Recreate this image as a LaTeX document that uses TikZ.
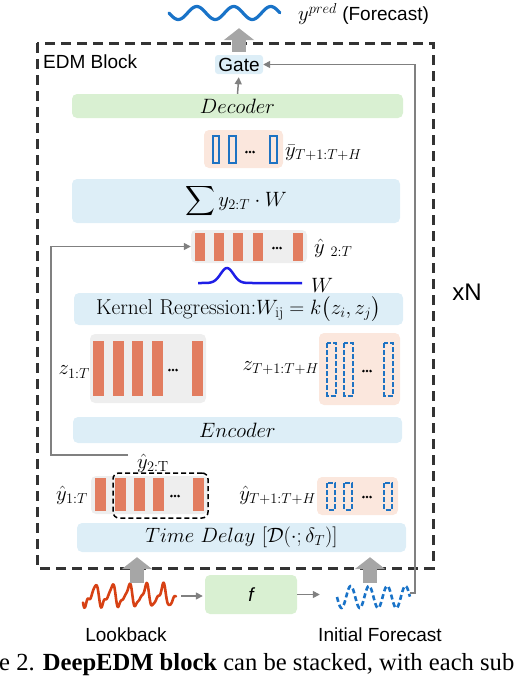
\documentclass[tikz,border=0pt]{standalone}
\usepackage{fontspec}
\usepackage{amsmath}
\newfontfamily\sansA{Liberation Sans}
\newfontfamily\capfont{Liberation Serif}
\usetikzlibrary{arrows.meta}
\definecolor{boxblue}{RGB}{221,238,247}
\definecolor{boxgreen}{RGB}{217,240,210}
\definecolor{boxpeach}{RGB}{251,231,221}
\definecolor{boxgray}{RGB}{238,238,238}
\definecolor{barorange}{RGB}{226,125,96}
\definecolor{barblue}{RGB}{30,115,195}
\definecolor{fatgray}{RGB}{166,166,166}
\definecolor{conngray}{RGB}{128,128,128}
\definecolor{borderdark}{RGB}{51,51,51}
\definecolor{wblue}{RGB}{30,30,230}
\definecolor{lookred}{RGB}{215,65,20}
\definecolor{fcblue}{RGB}{25,115,200}
\newcommand\mydots[1]{\fill (#1) ++(-3.6,0) circle (1.4) ++(3.6,0) circle (1.4) ++(3.6,0) circle (1.4);}
\begin{document}
\begin{tikzpicture}[x=1pt,y=-1pt,
  blk/.style={rounded corners=5pt, inner sep=0pt, draw=none},
  bluebox/.style={blk, fill=boxblue},
  greenbox/.style={blk, fill=boxgreen},
  peachbox/.style={blk, fill=boxpeach},
  graybox/.style={blk, fill=boxgray},
  bar/.style={fill=barorange},
  hollow/.style={draw=barblue, line width=2.4pt},
  hollowd/.style={hollow, dash pattern=on 5pt off 2pt},
  conn/.style={draw=conngray, line width=1.5pt, -{Triangle[length=7pt,width=7pt]}},
  fat/.style={draw=fatgray, line width=14pt, -{Triangle[length=12pt,width=30pt]}},
  sanstxt/.style={font=\sansA\fontsize{19}{22}\selectfont},
  mtxt/.style={font=\fontsize{21.5}{24}\selectfont},
  lbl/.style={inner sep=0pt, font=\fontsize{21}{24}\selectfont},
  ghost/.style={inner sep=0pt, draw=none}
]
\useasboundingbox (0,0) rectangle (516,678);

% outer dashed frame
\draw[borderdark, line width=3pt, dash pattern=on 10pt off 6pt] (37,43) rectangle (433,568);
\node[sanstxt, anchor=west, inner sep=0pt] (edm) at (43,62) {EDM Block};
\node[font=\sansA\fontsize{24}{28}\selectfont, inner sep=0pt] (xn) at (467,292) {xN};

% boxes
\node[bluebox, minimum width=48pt, minimum height=19pt, rounded corners=3pt, sanstxt] (gate) at (239,64.5) {Gate};
\node[greenbox, minimum width=331pt, minimum height=24pt, mtxt] (decoder) at (237.5,106) {$Decoder$};
\node[peachbox, minimum width=79pt, minimum height=38pt] (ybarbox) at (243.5,149) {};
\node[bluebox, minimum width=328pt, minimum height=44pt, mtxt] (sum) at (236,201) {$\displaystyle\sum y_{2:T}\cdot W$};
\node[graybox, minimum width=116pt, minimum height=33pt] (yh2box) at (249,246.5) {};
\node[bluebox, minimum width=329pt, minimum height=32pt, mtxt] (kernel) at (238.5,309) {Kernel Regression:$W_{\mathrm{ij}}=k\bigl(z_i,z_j\bigr)$};
\node[graybox, minimum width=116pt, minimum height=69pt] (z1box) at (148,368.5) {};
\node[peachbox, minimum width=81pt, minimum height=72pt] (zTbox) at (359.5,369) {};
\node[bluebox, minimum width=329pt, minimum height=26pt, mtxt] (encoder) at (237.5,430) {$Encoder$};
\node[graybox, minimum width=117pt, minimum height=38pt] (yh1box) at (149.5,495) {};
\node[peachbox, minimum width=81pt, minimum height=38pt] (yhTbox) at (357.5,496) {};
\node[bluebox, minimum width=329pt, minimum height=29pt, mtxt] (timedelay) at (241.5,537.5) {$Time\ Delay\ [\mathcal{D}(\cdot;\delta_T)]$};
\node[greenbox, minimum width=92pt, minimum height=39pt, font=\sansA\itshape\fontsize{19}{22}\selectfont] (f) at (251,594.5) {f};

% bars ybar (hollow solid)
\draw[hollow] (213.2,136.2) rectangle (218.8,162.8);
\draw[hollow] (229.2,136.2) rectangle (235.8,162.8);
\draw[hollow] (270.2,136.2) rectangle (276.8,162.8);
\mydots{250,152}
% bars yhat 2:T
\foreach \a in {195,214,233,253,293} \fill[bar] (\a,233) rectangle (\a+10,261);
\mydots{277,248}
% bars z1:T
\foreach \a in {93,113,132,152,192} \fill[bar] (\a,341) rectangle (\a+10.5,396);
\mydots{173,370}
% hollow dashed zT
\draw[hollowd] (327.2,343.2) rectangle (335.8,395.8);
\draw[hollowd] (344.2,343.2) rectangle (352.8,395.8);
\draw[hollowd] (384.2,343.2) rectangle (392.8,395.8);
\mydots{367,371}
% bars yhat 1:T
\foreach \a in {95,115,134,153,193} \fill[bar] (\a,478) rectangle (\a+10.5,511);
\mydots{175,496}
% hollow dashed yhat T
\draw[hollowd] (327.2,483.2) rectangle (334.8,509.8);
\draw[hollowd] (344.2,483.2) rectangle (351.8,509.8);
\draw[hollowd] (384.2,483.2) rectangle (391.8,509.8);
\mydots{367,497}
% dashed sub-window
\node[draw=black, line width=1.5pt, dash pattern=on 5pt off 3pt, rounded corners=6pt, minimum width=95pt, minimum height=45pt, inner sep=0pt] (subwin) at (160.5,495.5) {};

% labels
\node[lbl, anchor=west] (ybarlbl) at (285,153) {$\bar{y}_{T+1:T+H}$};
\node[lbl, anchor=west] (yh2lbl) at (314,248) {${\hat{y}}\;{}_{2:T}$};
\node[lbl, anchor=west] (wlbl) at (311,285) {$W$};
\node[lbl, anchor=east] (z1lbl) at (90,372) {$z_{1:T}$};
\node[lbl, anchor=east] (zTlbl) at (319,368) {$z_{T+1:T+H}$};
\node[lbl] (yh2low) at (153,463) {$\hat{y}_{2:\mathrm{T}}$};
\node[lbl, anchor=east] (yh1lbl) at (88,495) {$\hat{y}_{1:T}$};
\node[lbl, anchor=east] (yhTlbl) at (316,495) {$\hat{y}_{T+1:T+H}$};

% W kernel curve
\draw[wblue, line width=2.5pt] plot[domain=198:262, samples=60] ({\x},{283-15*exp(-((\x-227)/9)^2)}) -- (302,283);

% waves
\node[ghost, minimum width=111pt, minimum height=14pt] (topwave) at (224.5,14) {};
\draw[fcblue, line width=3.2pt, line cap=round] plot[domain=0:1, samples=120] ({169+111*\x},{13+6.5*sin(3*360*\x)});
\node[sanstxt, anchor=west, inner sep=0pt] (ypred) at (298,14) {{\fontsize{21}{24}\selectfont$y^{pred}$} (Forecast)};

\node[ghost, minimum width=93pt, minimum height=32pt] (lookback) at (129.5,596) {};
\draw[lookred, line width=2.6pt, line cap=round, line join=round] plot[domain=0:1, samples=160] ({83+93*\x},{596+9*sin(5.5*360*\x+20)+4*sin(11*360*\x+60)+1.5*sin(17*360*\x)});
\node[ghost, minimum width=73pt, minimum height=25pt] (initfc) at (373.5,597) {};
\draw[fcblue, line width=2.6pt, dash pattern=on 5pt off 3pt] plot[domain=0:1, samples=120] ({337+73*\x},{597+11*sin(4*360*\x)});
\node[sanstxt, inner sep=0pt] (lbtxt) at (126,635) {Lookback};
\node[sanstxt, inner sep=0pt] (fctxt) at (380,635) {Initial Forecast};

% connectors
\draw[conn, shorten >=3pt] (decoder.north) -- (gate.south);
\draw[conn] ([yshift=4pt]initfc.east) -- ++(5,0) |- (gate.east);
\coordinate (lstart) at (128,455);
\draw[conn] (lstart) -- ++(-77,0) |- (yh2box.west);
\draw[conn, shorten <=5pt, shorten >=2pt] (lookback.east) -- (lookback.east -| f.west);
\draw[conn, shorten >=17pt] (f.east) -- (f.east -| initfc.west);

% fat arrows
\coordinate (topc) at (gate.north |- topwave.south);
\draw[fat] ([yshift=3pt]gate.north) -- ([yshift=-7pt]topc);
\coordinate (lbtop) at (137,583);
\coordinate (fctop) at (370,583);
\draw[fat, shorten >=5pt] (lbtop) -- (lbtop |- timedelay.south);
\draw[fat, shorten >=5pt] (fctop) -- (fctop |- timedelay.south);

% caption
\node[anchor=base west, inner sep=0pt, font=\capfont\fontsize{24.6}{28}\selectfont] (caption) at (-1,670) {e 2. \textbf{DeepEDM block} can be stacked, with each sub};
\end{tikzpicture}
\end{document}
